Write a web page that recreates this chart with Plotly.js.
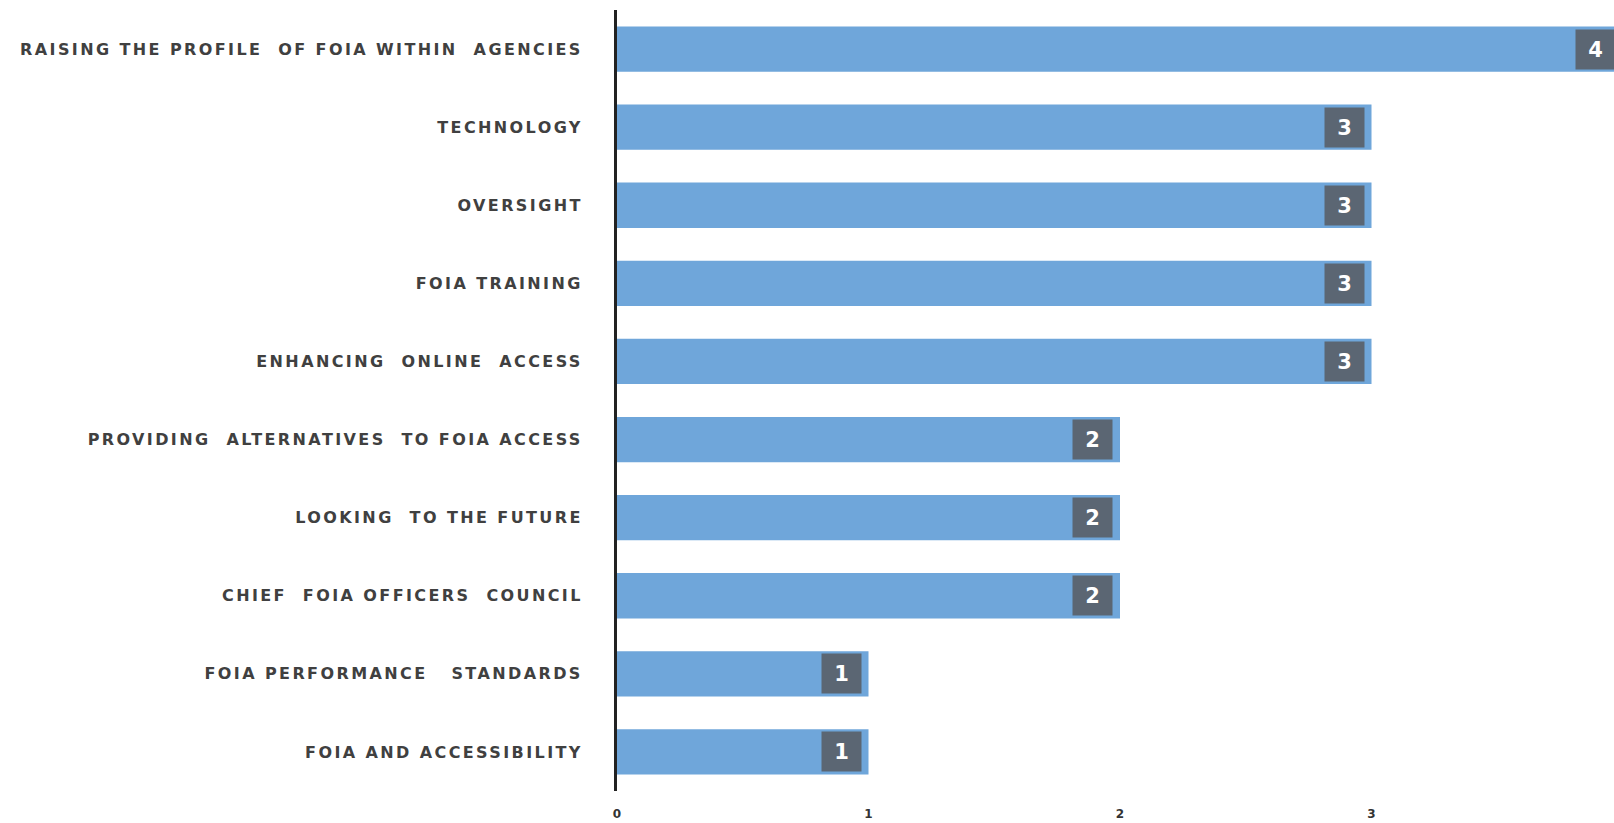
<!DOCTYPE html>
<html>
<head>
<meta charset="utf-8">
<script src="https://cdn.plot.ly/plotly-3.0.1.min.js"></script>
<style>
html,body{margin:0;padding:0;background:#fff;overflow:hidden;}
#chart{width:1623px;height:823px;}
.ytick text{letter-spacing:2.4px;}
</style>
</head>
<body>
<div id="chart"></div>
<script>
const categories = [
  "RAISING THE PROFILE  OF FOIA WITHIN  AGENCIES",
  "TECHNOLOGY",
  "OVERSIGHT",
  "FOIA TRAINING",
  "ENHANCING  ONLINE  ACCESS",
  "PROVIDING  ALTERNATIVES  TO FOIA ACCESS",
  "LOOKING  TO THE FUTURE",
  "CHIEF  FOIA OFFICERS  COUNCIL",
  "FOIA PERFORMANCE   STANDARDS",
  "FOIA AND ACCESSIBILITY"
];
const values = [4, 3, 3, 3, 3, 2, 2, 2, 1, 1];
const xTicks = [0, 1, 2, 3];

const trace = {
  type: 'bar',
  orientation: 'h',
  y: categories,
  x: values,
  width: 0.58,
  marker: {color: '#6fa6da', line: {width: 0}},
  hoverinfo: 'none'
};

const annotations = categories.map((c, i) => ({
  x: values[i], y: c, xref: 'x', yref: 'y',
  xanchor: 'right', yanchor: 'middle', xshift: -7,
  text: '<b>' + values[i] + '</b>',
  showarrow: false,
  bgcolor: '#5b6673',
  width: 37, height: 37,
  font: {family: 'DejaVu Sans, Verdana, sans-serif', size: 21, color: '#ffffff'}
}));

const layout = {
  width: 1623, height: 823,
  margin: {l: 617, r: 0, t: 10, b: 32},
  paper_bgcolor: '#ffffff', plot_bgcolor: '#ffffff',
  showlegend: false,
  xaxis: {
    range: [0, 4], tickvals: xTicks, ticktext: xTicks.map(String),
    showgrid: false, zeroline: false, showline: false, ticks: '',
    tickfont: {family: 'DejaVu Sans, Verdana, sans-serif', size: 12, color: '#333333', weight: 'bold'},
    ticklabelstandoff: 14
  },
  yaxis: {
    range: [9.5, -0.5], type: 'category',
    showgrid: false, zeroline: false, showline: true, linecolor: '#222222', linewidth: 3,
    ticks: '', ticklabelstandoff: 28,
    tickfont: {family: 'DejaVu Sans, Verdana, sans-serif', size: 16, color: '#404040', weight: 'bold'}
  },
  annotations: annotations
};

Plotly.newPlot('chart', [trace], layout, {displayModeBar: false, staticPlot: true});
</script>
</body>
</html>
